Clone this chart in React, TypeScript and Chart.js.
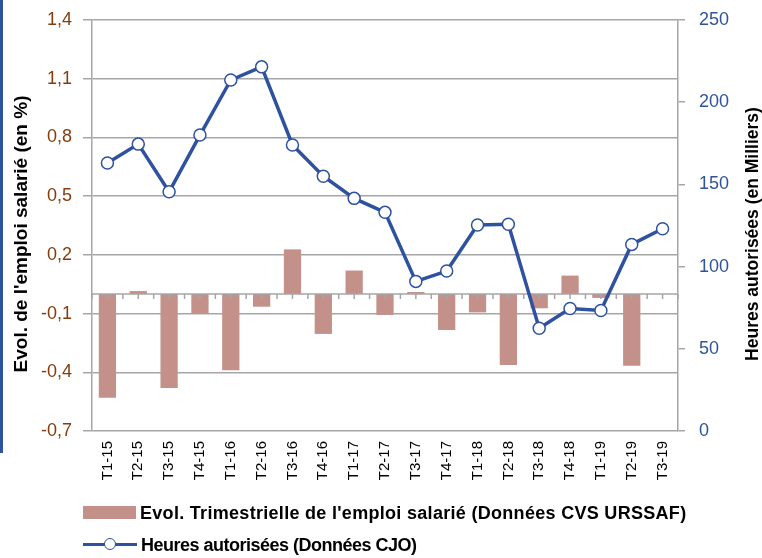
import React, { useEffect, useRef } from 'react';
import { Chart, registerables } from 'chart.js';

Chart.register(...registerables);

const categories = ['T1-15', 'T2-15', 'T3-15', 'T4-15', 'T1-16', 'T2-16', 'T3-16', 'T4-16', 'T1-17', 'T2-17', 'T3-17', 'T4-17', 'T1-18', 'T2-18', 'T3-18', 'T4-18', 'T1-19', 'T2-19', 'T3-19'];
const emploiEvol = [-0.53, 0.015, -0.48, -0.1, -0.39, -0.065, 0.228, -0.204, 0.12, -0.107, 0.01, -0.184, -0.094, -0.363, -0.073, 0.094, -0.02, -0.366, null];
const heuresAutorisees = [163, 174.5, 145.5, 180, 213.5, 221.5, 174, 155, 141.5, 133, 91, 97.3, 125.3, 125.8, 62.5, 74.5, 73.3, 113.5, 123];
const leftTicks = [-0.7, -0.4, -0.1, 0.2, 0.5, 0.8, 1.1, 1.4];
const rightTicks = [0, 50, 100, 150, 200, 250];

const leftTitle = "Evol. de l'emploi salarié (en %)";
const rightTitle = 'Heures autorisées (en Milliers)';
const barLabel = "Evol. Trimestrielle de l'emploi salarié (Données CVS URSSAF)";
const lineLabel = 'Heures autorisées (Données CJO)';

const BAR_COLOR = '#C3918A';
const LINE_COLOR = '#2F52A0';
const GRID = '#A6A6A6';
const RED_TEXT = '#843C0C';
const BLUE_TEXT = '#2F5597';
const FONT = "'Liberation Sans', Arial, sans-serif";

const zeroAxisPlugin = {
  id: 'zeroAxis',
  afterDatasetDraw(chart: any, args: any) {
    if (args.index !== 0) return;
    const { ctx, scales } = chart;
    const x = scales.x;
    const y = scales.y;
    const y0 = y.getPixelForValue(0);
    ctx.save();
    ctx.strokeStyle = GRID;
    ctx.lineWidth = 1.5;
    ctx.beginPath();
    ctx.moveTo(chart.chartArea.left, y0);
    ctx.lineTo(chart.chartArea.right, y0);
    const n = categories.length;
    const half = (x.getPixelForValue(1) - x.getPixelForValue(0)) / 2;
    for (let i = 0; i < n; i++) {
      const c = x.getPixelForValue(i);
      const xs = [c - half, c];
      if (i === n - 1) xs.push(c + half);
      for (const px of xs) {
        ctx.moveTo(px, y0);
        ctx.lineTo(px, y0 + 5);
      }
    }
    ctx.stroke();
    ctx.restore();
  },
};

const titlesPlugin = {
  id: 'axisTitles',
  afterDraw(chart: any) {
    const { ctx } = chart;
    ctx.save();
    ctx.fillStyle = '#000';
    ctx.font = `bold 19px ${FONT}`;
    ctx.textAlign = 'center';
    ctx.textBaseline = 'middle';
    ctx.translate(22, 234);
    ctx.rotate(-Math.PI / 2);
    ctx.fillText(leftTitle, 0, 0);
    ctx.restore();
    ctx.save();
    ctx.fillStyle = '#000';
    ctx.font = `bold 17.5px ${FONT}`;
    ctx.textAlign = 'center';
    ctx.textBaseline = 'middle';
    ctx.translate(753, 234);
    ctx.rotate(-Math.PI / 2);
    ctx.fillText(rightTitle, 0, 0);
    ctx.restore();
  },
};

export default function App() {
  const canvasRef = useRef<HTMLCanvasElement | null>(null);

  useEffect(() => {
    const canvas = canvasRef.current;
    if (!canvas) return;
    const chart = new Chart(canvas, {
      type: 'bar',
      data: {
        labels: categories,
        datasets: [
          {
            type: 'bar',
            label: barLabel,
            data: emploiEvol as any,
            backgroundColor: BAR_COLOR,
            borderWidth: 0,
            yAxisID: 'y',
            barPercentage: 0.56,
            categoryPercentage: 1,
            order: 1,
          },
          {
            type: 'line',
            label: lineLabel,
            data: heuresAutorisees,
            borderColor: LINE_COLOR,
            borderWidth: 3.5,
            backgroundColor: '#FFFFFF',
            pointBackgroundColor: '#FFFFFF',
            pointBorderColor: LINE_COLOR,
            pointBorderWidth: 1.5,
            pointRadius: 6,
            tension: 0,
            yAxisID: 'y1',
            order: 0,
          } as any,
        ],
      },
      options: {
        animation: false,
        responsive: false,
        devicePixelRatio: 1,
        layout: { padding: { top: 20, left: 0, right: 0, bottom: 0 } },
        plugins: {
          legend: { display: false },
          tooltip: { enabled: false },
        },
        scales: {
          x: {
            offset: true,
            grid: { display: false, drawTicks: false },
            border: { display: false },
            ticks: {
              minRotation: 90,
              maxRotation: 90,
              padding: 10,
              color: '#000',
              font: { family: FONT, size: 15 },
              autoSkip: false,
            },
            afterFit(scale: any) {
              scale.height = 127;
              scale.paddingLeft = 0;
              scale.paddingRight = 0;
            },
          },
          y: {
            position: 'left',
            min: -0.7,
            max: 1.4,
            afterBuildTicks(scale: any) {
              scale.ticks = leftTicks.map((v) => ({ value: v }));
            },
            ticks: {
              color: RED_TEXT,
              font: { family: FONT, size: 18 },
              padding: 11,
              callback: (v: any) => Number(v).toFixed(1).replace('.', ','),
            },
            grid: { color: GRID, lineWidth: 1.5, tickLength: 9 },
            border: { color: GRID, width: 1.5 },
            afterFit(scale: any) {
              scale.width = 92;
              scale.paddingTop = 0;
              scale.paddingBottom = 0;
            },
          },
          y1: {
            position: 'right',
            min: 0,
            max: 250,
            afterBuildTicks(scale: any) {
              scale.ticks = rightTicks.map((v) => ({ value: v }));
            },
            ticks: {
              color: BLUE_TEXT,
              font: { family: FONT, size: 18 },
              padding: 14,
            },
            grid: { drawOnChartArea: false, color: GRID, lineWidth: 1.5, tickLength: 7 },
            border: { color: GRID, width: 1.5 },
            afterFit(scale: any) {
              scale.width = 84;
              scale.paddingTop = 0;
              scale.paddingBottom = 0;
            },
          },
        },
      },
      plugins: [zeroAxisPlugin, titlesPlugin],
    });
    return () => chart.destroy();
  }, []);

  const textStyle: React.CSSProperties = {
    position: 'absolute',
    fontFamily: FONT,
    fontWeight: 'bold',
    fontSize: 18,
    lineHeight: '20px',
    color: '#000',
    whiteSpace: 'nowrap',
  };

  return (
    <div style={{ position: 'fixed', left: 0, top: 0, width: 762, height: 558, background: '#fff', overflow: 'hidden' }}>
      <canvas ref={canvasRef} width={762} height={558} style={{ position: 'absolute', left: 0, top: 0, width: 762, height: 558 }} />
      <div style={{ position: 'absolute', left: 0, top: 0, width: 3, height: 453, background: LINE_COLOR }} />
      <div style={{ position: 'absolute', left: 83, top: 506, width: 53, height: 13, background: BAR_COLOR }} />
      <div style={{ ...textStyle, left: 140, top: 503, letterSpacing: '0.3px' }}>{barLabel}</div>
      <div style={{ position: 'absolute', left: 83, top: 543, width: 54, height: 3, background: LINE_COLOR }} />
      <div style={{ position: 'absolute', left: 104, top: 538, width: 12, height: 12, boxSizing: 'border-box', border: `1.5px solid ${LINE_COLOR}`, borderRadius: '50%', background: '#fff' }} />
      <div style={{ ...textStyle, left: 141, top: 535, letterSpacing: '-0.5px' }}>{lineLabel}</div>
    </div>
  );
}
